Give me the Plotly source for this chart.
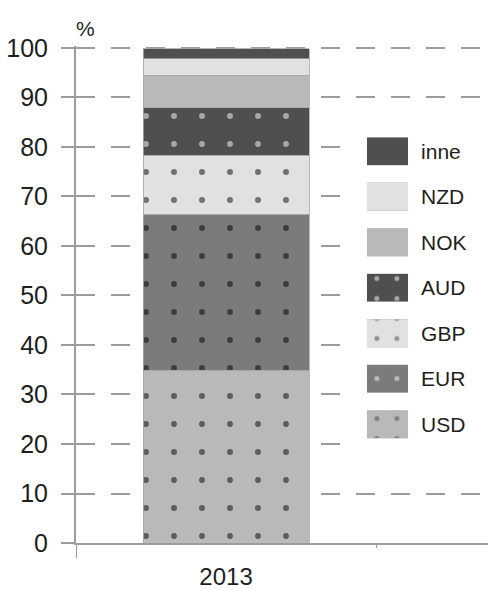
import plotly.graph_objects as go

# ---- data ----
years = ["2013"]
series = ["USD", "EUR", "GBP", "AUD", "NOK", "NZD", "inne"]
values = [34.9, 31.5, 11.9, 9.6, 6.6, 3.3, 2.0]

# ---- styles ----
fills = ["#b9b9b9", "#7b7b7b", "#e1e1e1", "#4f4f4f", "#b9b9b9", "#e1e1e1", "#4f4f4f"]
dot_shape = [".", ".", ".", ".", "", "", ""]
dot_color = ["#000000", "#000000", "#000000", "#ffffff", "#000000", "#000000", "#000000"]

FONT = "Liberation Sans, Arial, sans-serif"
TXT = "#1e1e1e"
AXC = "#9c9c9c"

fig = go.Figure()

for name, val, col, shp, dc in zip(series, values, fills, dot_shape, dot_color):
    fig.add_trace(go.Bar(
        x=years, y=[val], name=name, width=0.553,
        marker=dict(color=col, line=dict(color="#a6a6a6", width=0.8),
                    pattern=dict(shape=shp, fgcolor=dc, bgcolor=col,
                                 size=28, solidity=0.035)),
        showlegend=False, hoverinfo="skip",
    ))

# legend drawn as a small horizontal bar chart on its own axes
fig.add_trace(go.Bar(
    y=series, x=[1] * len(series), orientation="h", width=0.62,
    xaxis="x2", yaxis="y2",
    marker=dict(color=fills, line=dict(color="#c8c8c8", width=0.6),
                pattern=dict(shape=dot_shape, fgcolor=dot_color, bgcolor=fills,
                             size=20, solidity=0.05)),
    showlegend=False, hoverinfo="skip",
))

fig.update_layout(
    width=488, height=590, autosize=False,
    margin=dict(l=76, r=0, t=46, b=47),
    paper_bgcolor="white", plot_bgcolor="white",
    barmode="stack", showlegend=False,
    font=dict(family=FONT, color=TXT, size=24),
    xaxis=dict(
        type="category", range=[-0.5, 0.873], automargin=False,
        showline=True, linecolor=AXC, linewidth=2,
        ticks="outside", tickson="boundaries", ticklen=3, tickcolor=AXC, tickwidth=1,
        showgrid=False, tickfont=dict(size=24, family=FONT, color=TXT),
        ticklabelstandoff=11,
    ),
    yaxis=dict(
        range=[0, 100.4], tickvals=list(range(0, 101, 10)), automargin=False,
        showline=True, linecolor=AXC, linewidth=2,
        ticks="outside", ticklen=13, tickcolor=AXC, tickwidth=2,
        showgrid=True, gridcolor=AXC, gridwidth=2, griddash="19px,16px",
        zeroline=False, tickfont=dict(size=25, family=FONT, color=TXT),
        ticklabelstandoff=8,
    ),
    xaxis2=dict(domain=[0.706, 0.806], anchor="y2", range=[0, 1], visible=False,
                automargin=False),
    yaxis2=dict(
        domain=[0.193, 0.834], anchor="x2", side="right", type="category",
        categoryorder="array", categoryarray=series, automargin=False,
        showgrid=False, showline=False, zeroline=False, ticks="",
        tickfont=dict(size=21, family=FONT, color=TXT), ticklabelstandoff=12,
    ),
    shapes=[
        dict(type="rect", xref="x", yref="y", x0=0.41, x1=1.0, y0=15.5, y1=86,
             fillcolor="white", line=dict(width=0), layer="between"),
        dict(type="line", xref="x", yref="paper", x0=-0.5, x1=-0.5, y0=0, y1=-0.03,
             line=dict(color=AXC, width=2)),
    ],
    annotations=[
        dict(text="%", xref="paper", yref="paper", x=0.023, y=1, xanchor="center",
             yanchor="bottom", yshift=4, showarrow=False,
             font=dict(size=21, family=FONT, color=TXT)),
    ],
)

fig.write_html("out.html", config={"displayModeBar": False},
               post_script="document.body.style.margin='0';document.body.style.padding='0';")
